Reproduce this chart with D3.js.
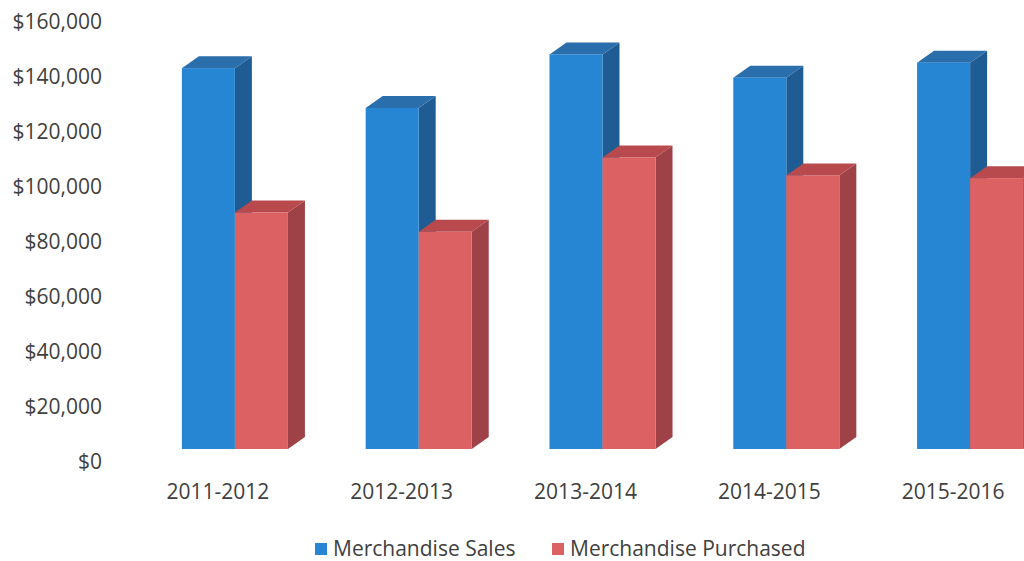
<!DOCTYPE html>
<html>
<head>
<meta charset="utf-8">
<script src="https://cdn.jsdelivr.net/npm/d3@7"></script>
<style>
  html, body { margin: 0; padding: 0; background: #fff; }
  svg { display: block; }
  text { font-family: "Open Sans", "DejaVu Sans", sans-serif; fill: #404040; }
</style>
</head>
<body>
<svg id="chart" width="1024" height="561"></svg>
<script>
const categories = ["2011-2012", "2012-2013", "2013-2014", "2014-2015", "2015-2016"];
const seriesNames = ["Merchandise Sales", "Merchandise Purchased"];
const salesValues = [138500, 124000, 143500, 135000, 140500];
const purchasedValues = [86000, 79000, 106000, 99500, 98500];
const tickValues = [0, 20000, 40000, 60000, 80000, 100000, 120000, 140000, 160000];

const colors = {
  "Merchandise Sales": { front: "#2686d3", side: "#1f5c93", top: "#2a6eab" },
  "Merchandise Purchased": { front: "#db6163", side: "#9e4247", top: "#b84a4e" }
};

const svg = d3.select("#chart");
const W = 1024, H = 561;
const depthX = 17, depthY = 12;

const y = d3.scaleLinear().domain([0, 160000]).range([449, 9]);
const x = d3.scaleBand().domain(categories).range([143, 1062]).paddingInner(0.423).paddingOuter(0.2115);
const xs = d3.scaleBand().domain(seriesNames).range([0, x.bandwidth()]).padding(0);

const data = categories.map((c, i) => ({
  cat: c,
  vals: [
    { s: seriesNames[0], v: salesValues[i] },
    { s: seriesNames[1], v: purchasedValues[i] }
  ]
}));

// Y axis labels
const yAxis = d3.axisLeft(y).tickValues(tickValues).tickFormat(d => "$" + d3.format(",")(d)).tickSize(0).tickPadding(0);
const gy = svg.append("g").attr("transform", "translate(102,13)").call(yAxis);
gy.select(".domain").remove();
gy.selectAll("text").style("font-size", "21px").style("font-family", "'Open Sans', sans-serif").attr("fill", "#404040");

// bars
const groups = svg.append("g").selectAll("g.grp").data(data).join("g")
  .attr("class", "grp")
  .attr("transform", d => `translate(${x(d.cat)},0)`);

groups.each(function(d) {
  const g = d3.select(this);
  d.vals.forEach(b => {
    const x0 = xs(b.s), w = xs.bandwidth();
    const yt = y(b.v), yb = y(0);
    const col = colors[b.s];
    // side
    g.append("path")
      .attr("d", `M${x0 + w},${yt} L${x0 + w + depthX},${yt - depthY} L${x0 + w + depthX},${yb - depthY} L${x0 + w},${yb} Z`)
      .attr("fill", col.side);
    // top
    g.append("path")
      .attr("d", `M${x0},${yt} L${x0 + depthX},${yt - depthY} L${x0 + w + depthX},${yt - depthY} L${x0 + w},${yt} Z`)
      .attr("fill", col.top);
    // front
    g.append("rect")
      .attr("x", x0).attr("y", yt)
      .attr("width", w).attr("height", yb - yt)
      .attr("fill", col.front);
  });
});

// x labels
svg.append("g").selectAll("text").data(categories).join("text")
  .attr("x", d => x(d) + x.bandwidth() * 0.34)
  .attr("y", 499)
  .attr("text-anchor", "middle")
  .style("font-size", "21px")
  .text(d => d);

// legend
const legendItems = [
  { name: seriesNames[0], sq: 315, tx: 333 },
  { name: seriesNames[1], sq: 552, tx: 570 }
];
const lg = svg.append("g");
legendItems.forEach(it => {
  lg.append("rect").attr("x", it.sq).attr("y", 543).attr("width", 12).attr("height", 12)
    .attr("fill", colors[it.name].front);
  lg.append("text").attr("x", it.tx).attr("y", 556).style("font-size", "21px").text(it.name);
});
</script>
</body>
</html>
